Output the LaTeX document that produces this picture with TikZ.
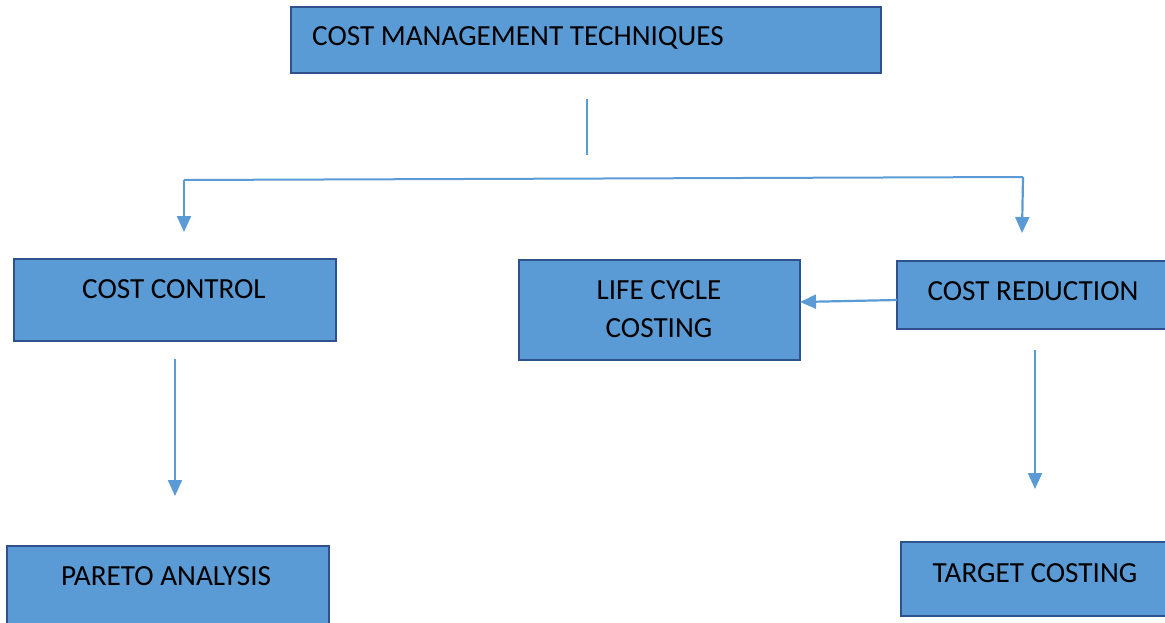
\documentclass[tikz,border=0pt]{standalone}
\usepackage{fontspec}
\setmainfont{Carlito}
\usetikzlibrary{arrows.meta}
\definecolor{boxfill}{HTML}{5B9BD5}
\definecolor{boxline}{HTML}{2F528F}
\definecolor{arrowc}{HTML}{5B9BD5}
\begin{document}
\begin{tikzpicture}[x=1pt,y=-1pt,
  box/.style={draw=boxline,fill=boxfill,line width=2pt},
  lbl/.style={anchor=base,inner sep=0pt,font=\fontsize{29.2}{35}\selectfont,text=black},
  conn/.style={draw=arrowc,line width=2.2pt,-{Triangle[width=14pt,length=16pt]}},
  thin/.style={draw=arrowc,line width=1.2pt}]
\useasboundingbox (0,0) rectangle (1165,623);
\clip (0,0) rectangle (1165,623);
% boxes
\path[box] (291,7) rectangle (881,73);
\path[box] (14,259) rectangle (336,341);
\path[box] (519,260) rectangle (800,360);
\path[box] (897,261) rectangle (1175,329);
\path[box] (7,546) rectangle (329,633);
\path[box] (901,542) rectangle (1175,616);
% named points
\coordinate (lcc) at (800,302);
\coordinate (cr) at (897,300);
% texts
\node[lbl,anchor=base west] (tTop) at (312,46) {COST MANAGEMENT TECHNIQUES};
\node[lbl] (tCC) at (174,298) {COST CONTROL};
\node[lbl] (tLC1) at (659,299) {LIFE CYCLE};
\node[lbl] (tLC2) at (659,337) {COSTING};
\node[lbl] (tCR) at (1033,300) {COST REDUCTION};
\node[lbl] (tPA) at (166,585) {PARETO ANALYSIS};
\node[lbl] (tTC) at (1035,582) {TARGET COSTING};
% connectors
\coordinate (v1) at (587,99);
\coordinate (v2) at (587,155);
\draw[thin] (v1) -- (v2);
\coordinate (hL) at (184,180);
\coordinate (hR) at (1023,177);
\coordinate (aL) at (184,232);
\coordinate (aR) at (1022,233);
\draw[draw=arrowc,line width=2pt] (hL) -- (hR);
\draw[conn] (hL) -- (aL);
\draw[conn] (hR) -- (aR);
\draw[conn] (cr) -- (lcc);
\coordinate (c1) at (175,359);
\coordinate (c2) at (175,496);
\draw[conn] (c1) -- (c2);
\coordinate (r1) at (1035,350);
\coordinate (r2) at (1035,489);
\draw[conn] (r1) -- (r2);
\end{tikzpicture}
\end{document}
